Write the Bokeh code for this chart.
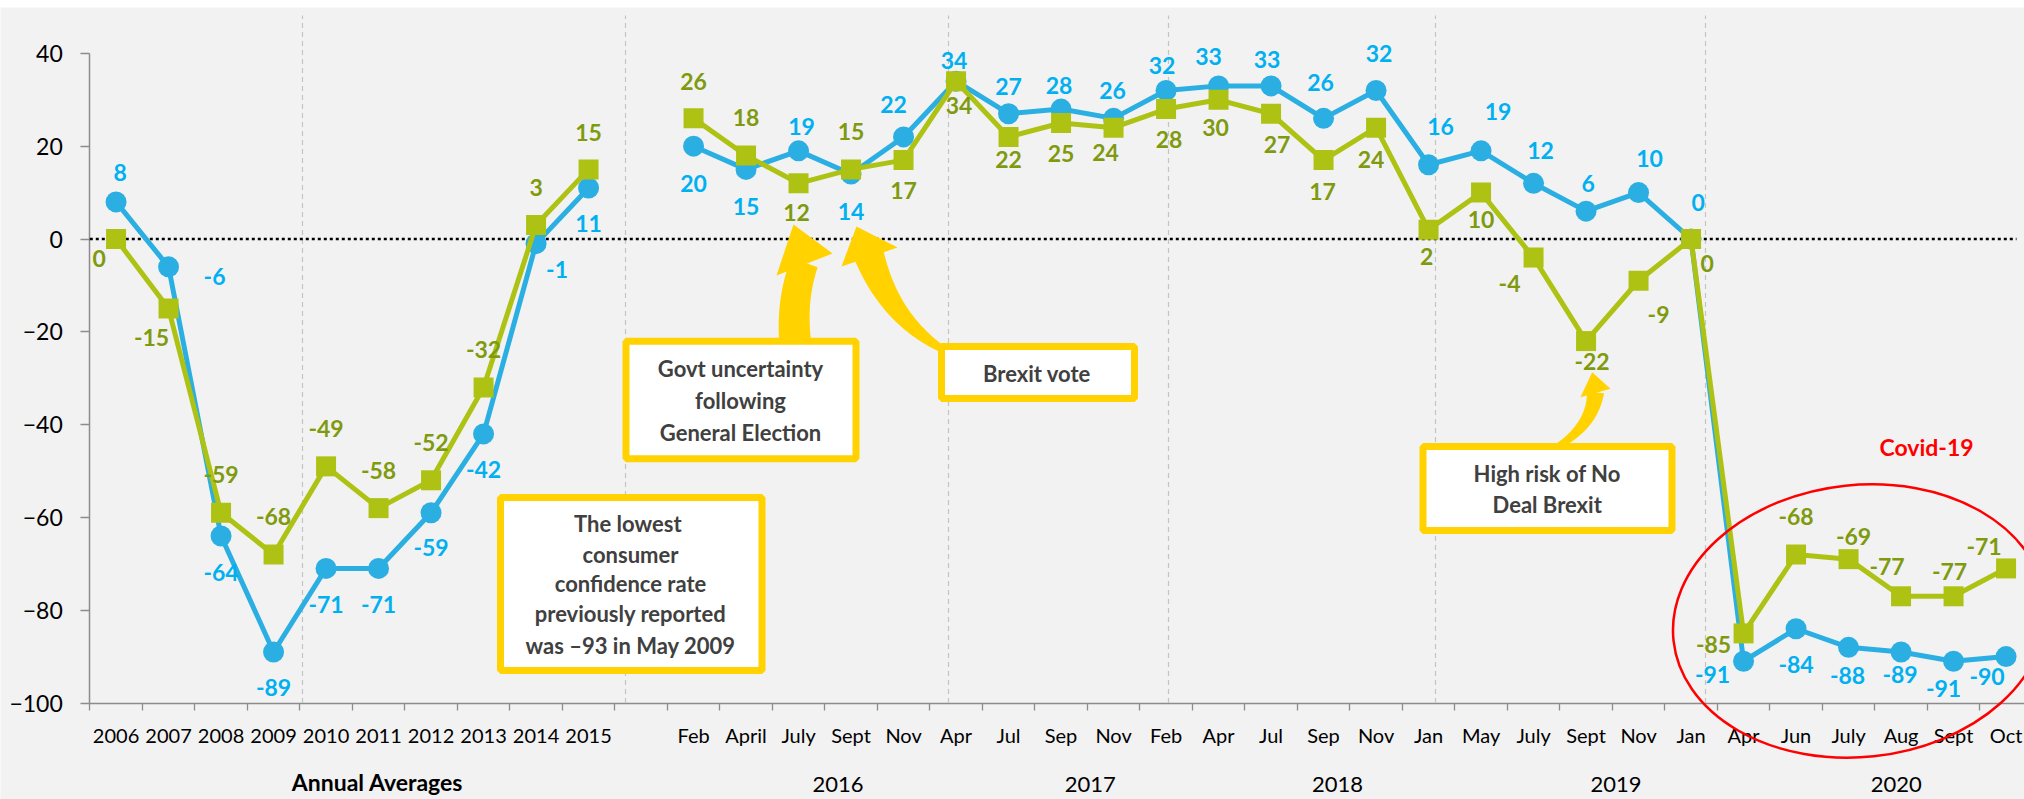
import numpy as np
from bokeh.plotting import figure
from bokeh.models import ColumnDataSource, LinearAxis, FixedTicker, Range1d
from bokeh.core.properties import value
from bokeh.embed import file_html
from bokeh.resources import INLINE

# ---------------- data ----------------
categories = ["2006", "2007", "2008", "2009", "2010", "2011", "2012", "2013", "2014", "2015", "",
              "Feb", "April", "July", "Sept", "Nov",
              "Apr", "Jul", "Sep", "Nov",
              "Feb", "Apr", "Jul", "Sep", "Nov",
              "Jan", "May", "July", "Sept", "Nov",
              "Jan", "Apr", "Jun", "July", "Aug", "Sept", "Oct"]
nan = float("nan")
blue_values = [8, -6, -64, -89, -71, -71, -59, -42, -1, 11, nan,
               20, 15, 19, 14, 22,
               34, 27, 28, 26,
               32, 33, 33, 26, 32,
               16, 19, 12, 6, 10,
               0, -91, -84, -88, -89, -91, -90]
green_values = [0, -15, -59, -68, -49, -58, -52, -32, 3, 15, nan,
                26, 18, 12, 15, 17,
                34, 22, 25, 24,
                28, 30, 27, 17, 24,
                2, 10, -4, -22, -9,
                0, -85, -68, -69, -77, -77, -71]
group_labels = ["Annual Averages", "2016", "2017", "2018", "2019", "2020"]
y_ticks = [-100, -80, -60, -40, -20, 0, 20, 40]

# ---------------- layout helpers (reference pixel -> data) ----------------
def X(px):
    return (np.asarray(px, dtype=float) - 89.3) / 52.5

def Y(py):
    return (238.5 - np.asarray(py, dtype=float)) / 4.64

# label offsets in screen pixels (layout only)
blue_dx = [4, 46, 0, 0, 0, 0, 0, 0, 21, 0, 0, 0, 0, 3, 0, -10, -2, 0, -2, -1, -4, -10, -4, -3, 3,
           12, 17, 7, 2, 11, 7, -31, 0, -1, -1, -10, -19]
blue_dy = [-29, 10, 37, 36, 36, 36, 35, 36, 26, 36, 0, 37, 37, -24, 37, -32, -21, -27, -24, -28,
           -25, -29, -26, -36, -37, -38, -39, -33, -28, -34, -37, 13, 36, 28, 23, 27, 20]
green_dx = [-17, -17, 0, 0, 0, 0, 0, 0, 0, 0, 0, 0, 0, -2, 0, 0, 3, 0, 0, -8, 3, -3, 6, -1, -5,
            -2, 0, -24, 6, 20, 16, -30, 0, 5, -14, -4, -22]
green_dy = [19, 29, -38, -38, -38, -38, -38, -38, -38, -37, 0, -37, -38, 29, -38, 30, 24, 23, 30, 25,
            30, 28, 31, 31, 32, 27, 27, 26, 20, 34, 24, 11, -38, -23, -30, -25, -22]

BLUE = "#2BAFE3"
BLUE_TXT = "#00B0F0"
GREEN = "#AEC214"
GREEN_TXT = "#7F9A0E"
YELLOW = "#FFD200"
BOX_TXT = "#404040"
FONT = value("Lato")

n = len(categories)
xc = [i + 0.5 for i in range(n)]

p = figure(width=2024, height=799, output_backend="svg", toolbar_location=None,
           x_range=Range1d(float(X(0)), float(X(2024))),
           y_range=Range1d(float(Y(799)), float(Y(7))),
           x_axis_type=None, y_axis_type=None,
           min_border_left=0, min_border_right=0, min_border_bottom=0, min_border_top=7)
p.title.visible = False
p.outline_line_color = None
p.background_fill_color = "#F2F2F2"
p.border_fill_color = "white"

# dashed vertical separators
sep_px = [302, 625, 948, 1168, 1435, 1705]
p.segment(x0=X(sep_px), y0=[-100] * len(sep_px), x1=X(sep_px), y1=[float(Y(15))] * len(sep_px),
          line_color="#C4C4C4", line_width=1.2, line_dash="5 4")

# zero dotted line
p.segment(x0=[0], y0=[0], x1=[float(X(2016))], y1=[0], line_color="black", line_width=2.5, line_dash="3 3")

# ---------------- curved arrows ----------------
def curved_arrow(p0, p1, p2, w0, w1, tip, bl, br, nn=40):
    t = np.linspace(0, 1, nn)
    p0, p1, p2 = map(np.array, (p0, p1, p2))
    B = ((1 - t) ** 2)[:, None] * p0 + (2 * (1 - t) * t)[:, None] * p1 + (t ** 2)[:, None] * p2
    D = (2 * (1 - t))[:, None] * (p1 - p0) + (2 * t)[:, None] * (p2 - p1)
    D = D / np.linalg.norm(D, axis=1)[:, None]
    N = np.stack([-D[:, 1], D[:, 0]], axis=1)
    w = (w0 + (w1 - w0) * t)[:, None] / 2
    L = B + N * w
    R = B - N * w
    poly = np.vstack([L, R[::-1]])
    head = np.array([tip, bl, br], dtype=float)
    return poly, head

arrows = [
    ((804, 262), (790, 300), (795, 345), 28, 32, (793, 224), (776, 275), (832, 253)),
    ((869, 256), (891, 322), (948, 352), 30, 6, (856, 226), (841, 266), (897, 247)),
    ((1595, 392), (1592, 425), (1557, 446), 17, 6, (1591.7, 371.7), (1580, 396.7), (1610, 388.3)),
]
for a in arrows:
    poly, head = curved_arrow(*a)
    p.patch(X(poly[:, 0]), Y(poly[:, 1]), fill_color=YELLOW, line_color=None)
    p.patch(X(head[:, 0]), Y(head[:, 1]), fill_color=YELLOW, line_color=None)

# ---------------- annotation boxes ----------------
boxes = [(625.5, 855.5, 340.8, 458.2), (941, 1134, 346, 398), (500, 761.5, 497, 670), (1422.5, 1671.5, 446, 530)]
p.quad(left=[float(X(b[0])) for b in boxes], right=[float(X(b[1])) for b in boxes],
       top=[float(Y(b[2])) for b in boxes], bottom=[float(Y(b[3])) for b in boxes],
       fill_color="white", line_color=YELLOW, line_width=7)

box_text = [
    ("Govt uncertainty", 740, 368.3), ("following", 740, 400), ("General Election", 740, 431.7),
    ("Brexit vote", 1036.4, 372.7),
    ("The  lowest", 630, 522.7), ("consumer", 630, 554), ("confidence rate", 630, 583.3),
    ("previously reported", 630, 613.3), ("was \u201393 in May 2009", 630, 645),
    ("High risk of No", 1546.7, 473.3), ("Deal Brexit", 1546.7, 504),
]
p.text(x=[float(X(t[1])) for t in box_text], y=[float(Y(t[2])) for t in box_text],
       text=[t[0] for t in box_text], text_align="center", text_baseline="middle",
       text_font=FONT, text_font_style="bold", text_font_size="22px", text_color=BOX_TXT)

# ---------------- series ----------------
def src(vals, dx, dy):
    keep = [i for i in range(n) if vals[i] == vals[i]]
    return ColumnDataSource(dict(x=[xc[i] for i in keep], y=[vals[i] for i in keep],
                                 t=[str(int(vals[i])) for i in keep],
                                 dx=[dx[i] for i in keep], dy=[dy[i] for i in keep]))

p.line(xc, blue_values, line_color=BLUE, line_width=5)
p.scatter(xc, blue_values, marker="circle", size=21, fill_color=BLUE, line_color=None)
p.line(xc, green_values, line_color=GREEN, line_width=5)
p.scatter(xc, green_values, marker="square", size=20, fill_color=GREEN, line_color=None)

p.text(x="x", y="y", text="t", x_offset="dx", y_offset="dy", source=src(blue_values, blue_dx, blue_dy),
       text_align="center", text_baseline="middle", text_font=FONT, text_font_style="bold",
       text_font_size="23px", text_color=BLUE_TXT)
p.text(x="x", y="y", text="t", x_offset="dx", y_offset="dy", source=src(green_values, green_dx, green_dy),
       text_align="center", text_baseline="middle", text_font=FONT, text_font_style="bold",
       text_font_size="23px", text_color=GREEN_TXT)

# Covid ellipse & label
p.ellipse(x=[float(X(1859))], y=[float(Y(620.5))], width=374, height=272, width_units="screen",
          height_units="screen", angle=0.105, fill_color=None, line_color="#FF0000", line_width=2.5)
p.text(x=[float(X(1926))], y=[float(Y(446.7))], text=["Covid-19"], text_align="center",
       text_baseline="middle", text_font=FONT, text_font_style="bold", text_font_size="23px",
       text_color="#FF0000")

# group labels under the axis
group_px = [377, 837.5, 1089.7, 1337, 1615.5, 1895.7]
group_py = [781, 783.5, 783.5, 783.5, 783.5, 783.5]
p.text(x=[float(X(v)) for v in group_px[1:]], y=[float(Y(v)) for v in group_py[1:]], text=group_labels[1:],
       text_align="center", text_baseline="middle", text_font=FONT, text_font_size="22px", text_color="black")
p.text(x=[float(X(group_px[0]))], y=[float(Y(group_py[0]))], text=group_labels[:1],
       text_align="center", text_baseline="middle", text_font=FONT, text_font_style="bold",
       text_font_size="23px", text_color="black")

# ---------------- axes ----------------
xaxis = LinearAxis(fixed_location=-100, bounds=(0, float(X(2024))))
xaxis.ticker = FixedTicker(ticks=xc, minor_ticks=list(range(n)))
xaxis.major_label_overrides = {xc[i]: categories[i] for i in range(n)}
xaxis.major_tick_line_color = None
xaxis.major_tick_in = 0
xaxis.major_tick_out = 0
xaxis.minor_tick_in = 0
xaxis.minor_tick_out = 7
xaxis.minor_tick_line_color = "#8C8C8C"
xaxis.minor_tick_line_width = 1.3
xaxis.axis_line_color = "#8C8C8C"
xaxis.axis_line_width = 1.5
xaxis.major_label_standoff = 13
xaxis.major_label_text_font = "Lato"
xaxis.major_label_text_font_size = "20px"
xaxis.major_label_text_color = "black"
xaxis.level = "underlay"
p.add_layout(xaxis, "below")

yaxis = LinearAxis(fixed_location=0, bounds=(-100, 40))
yaxis.ticker = FixedTicker(ticks=y_ticks, minor_ticks=[])
yaxis.major_tick_in = 0
yaxis.major_tick_out = 9
yaxis.major_tick_line_color = "#8C8C8C"
yaxis.major_tick_line_width = 1.3
yaxis.axis_line_color = "#8C8C8C"
yaxis.axis_line_width = 1.5
yaxis.major_label_standoff = 18
yaxis.major_label_text_font = "Lato"
yaxis.major_label_text_font_size = "23px"
yaxis.major_label_text_color = "black"
yaxis.level = "underlay"
p.add_layout(yaxis, "left")

open("out.html", "w").write(file_html(p, INLINE))
